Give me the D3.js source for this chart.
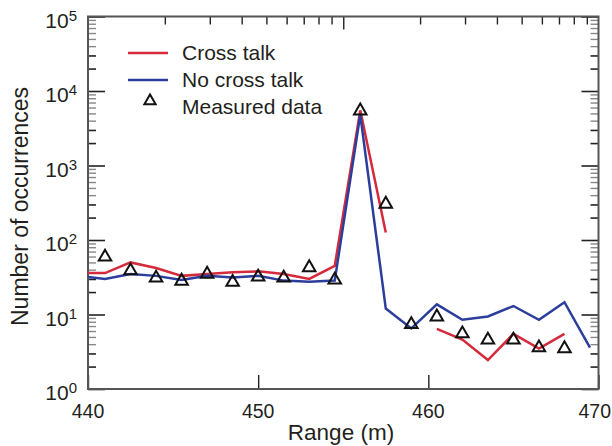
<!DOCTYPE html>
<html><head><meta charset="utf-8">
<script src="https://cdn.jsdelivr.net/npm/d3@7"></script>
<style>
html,body{margin:0;padding:0;background:#fff;}
svg{display:block;font-family:"Liberation Sans",Arial,sans-serif;}
</style></head>
<body>
<svg id="chart" width="612" height="446"></svg>
<script>
// ---- data ----
const lineRange = [440, 441, 442.5, 444, 445.5, 447, 448.5, 450, 451.5, 453, 454.5, 456, 457.5, 459, 460.5, 462, 463.5, 465, 466.5, 468, 469.5];
const crossTalk = [36, 36, 50, 42, 33, 35, 37, 38, 35, 30, 45, 5500, 126, null, 6.4, 4.6, 2.45, 5.5, 3.5, 5.5, null];
const noCrossTalk = [32, 30, 35, 33, 29, 33, 31.5, 33, 28.5, 27.5, 28.5, 4800, 12, 6.5, 13.7, 8.5, 9.4, 13, 8.5, 14.6, 3.6];
const measuredRange = [441, 442.5, 444, 445.5, 447, 448.5, 450, 451.5, 453, 454.5, 456, 457.5, 459, 460.5, 462, 463.5, 465, 466.5, 468];
const measured = [61, 40, 32, 29, 36, 28, 33, 32, 44, 30, 5600, 313, 7.6, 9.6, 5.7, 4.7, 4.7, 3.7, 3.6];
const xTicks = [440, 450, 460, 470];
const yExponents = [0, 1, 2, 3, 4, 5];
const legendLabels = ["Cross talk", "No cross talk", "Measured data"];
const xTitle = "Range (m)";
const yTitle = "Number of occurrences";

// ---- layout ----
const L = 88, R = 598.5, T = 16.5, B = 389;
const svg = d3.select("#chart");
const x = d3.scaleLinear().domain([440, 470]).range([L, R]);
const y = d3.scaleLog().domain([1, 1e5]).range([B, T]);
const xTop = d3.scaleLog().domain([1, 100]).range([L, R]);
const red = "#d42a3c", blue = "#2c3e9c", txt = "#231f20", frame = "#555";

// minor log ticks for y
const minorY = [];
yExponents.slice(0, -1).forEach(e => { for (let k = 2; k <= 9; k++) minorY.push(k * Math.pow(10, e)); });
const majorY = yExponents.map(e => Math.pow(10, e));

function yAxes(scale, side) {
  const g = svg.append("g");
  const isLeft = side === "left";
  const axMaj = (isLeft ? d3.axisRight(scale) : d3.axisLeft(scale)).tickValues(majorY).tickSize(17).tickFormat("");
  const axMin = (isLeft ? d3.axisRight(scale) : d3.axisLeft(scale)).tickValues(minorY).tickSize(8).tickFormat("");
  const gx = isLeft ? L : R;
  const a = g.append("g").attr("transform", `translate(${gx},0)`).call(axMaj);
  const b = g.append("g").attr("transform", `translate(${gx},0)`).call(axMin);
  [a, b].forEach(s => { s.select(".domain").remove(); s.selectAll("line").attr("stroke", "#222").attr("stroke-width", 1.6); });
  b.selectAll(".tick").filter(d => { const m = d / Math.pow(10, Math.floor(Math.log10(d) + 1e-9)); return m > 3.5; })
    .select("line").attr("stroke", "#888").attr("stroke-width", 1.4);
}
yAxes(y, "left");
yAxes(y, "right");

// top axis (log, inward)
const topMinor = [];
[1, 10].forEach(d => { for (let k = 2; k <= 9; k++) topMinor.push(k * d); });
const tMaj = svg.append("g").attr("transform", `translate(0,${T})`).call(d3.axisBottom(xTop).tickValues([10]).tickSize(13).tickFormat(""));
const tMin = svg.append("g").attr("transform", `translate(0,${T})`).call(d3.axisBottom(xTop).tickValues(topMinor).tickSize(8).tickFormat(""));
[tMaj, tMin].forEach(s => { s.select(".domain").remove(); s.selectAll("line").attr("stroke", "#222").attr("stroke-width", 1.4); });

// bottom axis
const bAx = svg.append("g").attr("transform", `translate(0,${B})`)
  .call(d3.axisTop(x).tickValues(xTicks).tickSize(14).tickFormat(""));
bAx.select(".domain").remove();
bAx.selectAll("line").attr("stroke", "#222").attr("stroke-width", 1.4);
svg.append("g").selectAll("text").data(xTicks).join("text")
  .attr("x", (d, i) => i === xTicks.length - 1 ? 611 : x(d)).attr("y", B + 29)
  .attr("text-anchor", (d, i) => i === xTicks.length - 1 ? "end" : "middle")
  .attr("font-size", 19.5).attr("fill", txt).text(d => d);

// y tick labels with superscript
const yl = svg.append("g").selectAll("text").data(yExponents).join("text")
  .attr("x", 77).attr("y", d => y(Math.pow(10, d)) + 11).attr("text-anchor", "end")
  .attr("font-size", 21).attr("fill", txt);
yl.append("tspan").text("10");
yl.append("tspan").attr("dy", -7).attr("font-size", 15).text(d => d);

// frame
svg.append("rect").attr("x", L).attr("y", T).attr("width", R - L).attr("height", B - T)
  .attr("fill", "none").attr("stroke", frame).attr("stroke-width", 2);

svg.append("clipPath").attr("id", "clip").append("rect").attr("x", L).attr("y", T).attr("width", R - L).attr("height", B - T);

const line = d3.line().defined(d => d[1] != null).x(d => x(d[0])).y(d => y(d[1]));
const plot = svg.append("g").attr("clip-path", "url(#clip)");
plot.append("path").datum(lineRange.map((r, i) => [r, crossTalk[i]]))
  .attr("d", line).attr("fill", "none").attr("stroke", red).attr("stroke-width", 2.5);
plot.append("path").datum(lineRange.map((r, i) => [r, noCrossTalk[i]]))
  .attr("d", line).attr("fill", "none").attr("stroke", blue).attr("stroke-width", 2.5);

const tri = d3.symbol().type(d3.symbolTriangle).size(68);
svg.append("g").selectAll("path").data(measuredRange.map((r, i) => [r, measured[i]])).join("path")
  .attr("transform", d => `translate(${x(d[0])},${y(d[1]) + 1})`)
  .attr("d", tri).attr("fill", "none").attr("stroke", "#111").attr("stroke-width", 2);

// legend
const lg = svg.append("g");
const ly = [53, 80, 107];
lg.append("line").attr("x1", 128).attr("x2", 168).attr("y1", ly[0]).attr("y2", ly[0]).attr("stroke", red).attr("stroke-width", 2.5);
lg.append("line").attr("x1", 128).attr("x2", 168).attr("y1", ly[1]).attr("y2", ly[1]).attr("stroke", blue).attr("stroke-width", 2.5);
lg.append("path").attr("transform", `translate(150,${ly[2] - 6})`).attr("d", d3.symbol().type(d3.symbolTriangle).size(55)).attr("fill", "none").attr("stroke", "#111").attr("stroke-width", 2);
lg.selectAll("text").data(legendLabels).join("text")
  .attr("x", 182).attr("y", (d, i) => ly[i] + 6.5).attr("font-size", 21).attr("fill", txt).text(d => d);

// axis titles
svg.append("text").attr("x", 341).attr("y", 440).attr("text-anchor", "middle")
  .attr("font-size", 22.5).attr("fill", txt).text(xTitle);
svg.append("text").attr("transform", `translate(28,206.5) rotate(-90)`).attr("text-anchor", "middle")
  .attr("font-size", 23).attr("fill", txt).text(yTitle);
</script>
</body></html>
